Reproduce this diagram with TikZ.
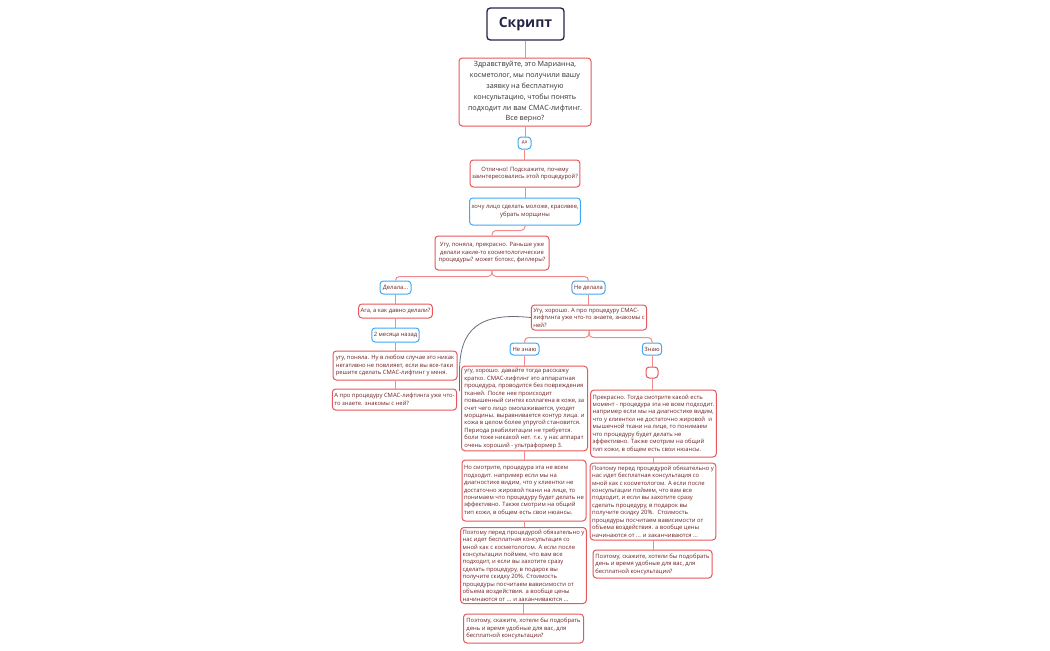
\documentclass[tikz,border=0pt]{standalone}
\usepackage{fontspec}
\setmainfont{Open Sans}
\usetikzlibrary{calc}

\definecolor{navy}{HTML}{26264A}
\definecolor{boxred}{HTML}{E8575A}
\definecolor{boxblue}{HTML}{3FA9F5}
\definecolor{linkred}{HTML}{F28B8B}
\definecolor{textred}{HTML}{6E2222}
\definecolor{relgray}{HTML}{6A6A80}

\newcommand\smalltxt{\fontsize{4.4}{5.6}\selectfont}

\begin{document}
\begin{tikzpicture}[
 x=0.75pt, y=-0.75pt,
 size/.style 2 args={minimum width=#1*0.75pt, minimum height=#2*0.75pt},
 central/.style={draw=navy, fill=white, line width=1pt, rounded corners=2.5pt,
   inner sep=2pt, text=navy, font=\fontsize{10.5}{12}\selectfont\bfseries},
 question/.style={draw=boxred, fill=white, line width=0.75pt, rounded corners=2.5pt,
   inner sep=1.5pt, text=textred, font=\smalltxt, align=center},
 lquestion/.style={question, align=left},
 answer/.style={question, draw=boxblue},
 link/.style={linkred, line width=0.75pt, rounded corners=3pt},
 relation/.style={relgray, line width=0.6pt},
]
\useasboundingbox (0,0) rectangle (1050,650);

% Main trunk
\node[central, size={77}{32}] (script) at (525.5,24) {Скрипт};
\node[question, size={132}{68}, text=black!80, font=\fontsize{5.4}{8.1}\selectfont] (hello) at (525,92)
    {Здравствуйте, это Марианна,\\косметолог, мы получили вашу\\заявку на бесплатную\\консультацию, чтобы понять\\подходит ли вам СМАС-лифтинг.\\Все верно?};
\node[answer, size={13}{12}, inner sep=0pt, font=\fontsize{3.6}{4}\selectfont] (yes) at (524.5,143) {да};
\node[question, size={106}{27}] (why) at (525,173.5)
    {Отлично! Подскажите, почему\\заинтересовались этой процедурой?};
\node[answer, size={110}{27}] (younger) at (525,211.5)
    {хочу лицо сделать моложе, красивее,\\убрать морщины};
\node[question, size={114}{34}] (before) at (492,253)
    {Угу, поняла, прекрасно. Раньше уже\\делали какие-то косметологические\\процедуры? может ботокс, филлеры?};

\foreach \from/\to in {script/hello, hello/yes, yes/why, why/younger}
    \draw[link] (\from.south) -- (\from.south |- \to.north);
\draw[link] (younger.south) -- ++(0,5) -| (before.north);

% Did before
\node[answer, size={31}{13}] (did) at (395.5,287.5) {Делала...};
\node[answer, size={33}{13}] (didnot) at (588.5,287.5) {Не делала};
\draw[link] (before.south) -- ++(0,6) -| (did.north);
\draw[link] (before.south) -- ++(0,6) -| (didnot.north);

\node[question, size={73}{14}] (when) at (395.5,311) {Ага, а как давно делали?};
\node[answer, size={47}{14}] (months) at (395.5,335) {2 месяца назад};
\node[lquestion, size={124}{29}] (anyway) at (395,365.5)
    {угу, поняла. Ну в любом случае это никак\\негативно не повлияет, если вы все-таки\\решите сделать СМАС-лифтинг у меня.};
\node[lquestion, size={123}{21}] (askdid) at (394.5,399.5)
    {А про процедуру СМАС-лифтинга уже что-\\то знаете. знакомы с ней?};

\foreach \from/\to in {did/when, when/months, months/anyway}
    \draw[link] (\from.south) -- (\from.south |- \to.north);
\draw[link] (months.south |- anyway.south) -- (months.south |- askdid.north);

% Did not
\node[lquestion, size={114}{25}] (asknot) at (589,317.5)
    {Угу, хорошо. А про процедуру СМАС-\\лифтинга уже что-то знаете, знакомы с\\ней?};
\draw[link] (didnot.south) -- (didnot.south |- asknot.north);

\node[answer, size={29}{12}] (dontknow) at (524.5,349) {Не знаю};
\node[answer, size={18}{12}] (know) at (652,349) {Знаю};
\draw[link] (asknot.south) -- ++(0,7) -| (dontknow.north);
\draw[link] (asknot.south) -- ++(0,7) -| (know.north);

% Does not know
\node[lquestion, size={126}{84}] (tell) at (524.5,408.5)
    {угу, хорошо. давайте тогда расскажу\\кратко. СМАС-лифтинг это аппаратная\\процедура, проводится без повреждения\\тканей. После нее происходит\\повышенный синтез коллагена в коже, за\\счет чего лицо омолаживается, уходят\\морщины. выравнивается контур лица. и\\кожа в целом более упругой становится.\\Периода реабилитации не требуется.\\боли тоже никакой нет. т.к. у нас аппарат\\очень хороший - ультраформер 3.};
\node[lquestion, size={124}{61}] (notall) at (524,490.5)
    {Но смотрите, процедура эта не всем\\подходит. например если мы на\\диагностике видим, что у клиентки не\\достаточно жировой ткани на лице, то\\понимаем что процедуру будет делать не\\эффективно. Также смотрим на общий\\тип кожи, в общем есть свои нюансы.};
\node[lquestion, size={124}{76}] (consult) at (523.5,565.5)
    {Поэтому перед процедурой обязательно у\\нас идет бесплатная консультация со\\мной как с косметологом. А если после\\консультации поймем, что вам все\\подходит, и если вы захотите сразу\\сделать процедуру, в подарок вы\\получите скидку 20\%. Стоимость\\процедуры посчитаем вависимости от\\объема воздействия. а вообще цены\\начинаются от ... и заканчиваются ...};
\node[lquestion, size={120}{29}] (booking) at (523.5,628.5)
    {Поэтому, скажите, хотели бы подобрать\\день и время удобные для вас, для\\бесплатной консультации?};

\foreach \from/\to in {dontknow/tell, tell/notall, notall/consult, consult/booking}
    \draw[link] (\from.south) -- (\from.south |- \to.north);

% Knows
\node[question, size={12}{11}] (empty) at (652,372.5) {};
\node[lquestion, size={123}{67}] (moment) at (653.5,423.5)
    {Прекрасно. Тогда смотрите какой есть\\момент - процедура эта не всем подходит.\\например если мы на диагностике видим,\\что у клиентки не достаточно жировой~ и\\мышечной ткани на лице, то понимаем\\что процедуру будет делать не\\эффективно. Также смотрим на общий\\тип кожи, в общем есть свои нюансы.};
\node[lquestion, size={124}{77}] (consultk) at (653,501.5)
    {Поэтому перед процедурой обязательно у\\нас идет бесплатная консультация со\\мной как с косметологом. А если после\\консультации поймем, что вам все\\подходит, и если вы захотите сразу\\сделать процедуру, в подарок вы\\получите скидку 20\%.~ Стоимость\\процедуры посчитаем вависимости от\\объема воздействия. а вообще цены\\начинаются от ... и заканчиваются ...};
\node[lquestion, size={119}{28}] (bookingk) at (652.5,564)
    {Поэтому, скажите, хотели бы подобрать\\день и время удобные для вас, для\\бесплатной консультации?};

\foreach \from/\to in {know/empty, empty/moment, moment/consultk, consultk/bookingk}
    \draw[link] (\from.south) -- (\from.south |- \to.north);

% Relationship
\coordinate (relend) at (459.5,391);
\draw[relation] (asknot.west) .. controls (478,312) and (459.5,330) .. (459.5,372) -- (relend);

\end{tikzpicture}
\end{document}
